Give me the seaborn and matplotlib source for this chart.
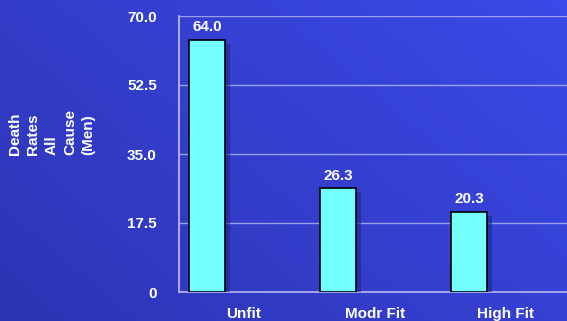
import numpy as np
import pandas as pd
import matplotlib
matplotlib.use("Agg")
import matplotlib.pyplot as plt
import matplotlib.patheffects as pe
import seaborn as sns

# data
groups = ["Unfit", "Modr Fit", "High Fit"]
death_rates = [64.0, 26.3, 20.3]
y_ticks = [0, 17.5, 35.0, 52.5, 70.0]
y_tick_labels = ["0", "17.5", "35.0", "52.5", "70.0"]

df = pd.DataFrame({"group": groups, "rate": death_rates})

sns.set_theme(style="white")
plt.rcParams["font.family"] = ["Liberation Sans", "DejaVu Sans"]
plt.rcParams["font.weight"] = "bold"

fig = plt.figure(figsize=(5.67, 3.21), dpi=100)

# diagonal blue gradient background
bg = fig.add_axes([0, 0, 1, 1], zorder=-10)
xx, yy = np.meshgrid(np.linspace(0, 1, 200), np.linspace(0, 1, 120))
t = (xx * 0.6 + (1 - yy) * 0.4)
c0 = np.array([0x2D, 0x34, 0xB4]) / 255
c1 = np.array([0x3B, 0x4A, 0xE8]) / 255
img = c0[None, None, :] * (1 - t[..., None]) + c1[None, None, :] * t[..., None]
bg.imshow(img, aspect="auto", extent=[0, 1, 0, 1], origin="upper")
bg.axis("off")

W, H = 567, 321
ax = fig.add_axes([179 / W, 1 - 292 / H, (W - 179) / W, (292 - 16) / H])
ax.patch.set_alpha(0)

sns.barplot(data=df, x="group", y="rate", color="#73FEFF", width=0.27,
            edgecolor="black", linewidth=1.2, saturation=1, ax=ax, zorder=3)
for bar in ax.patches:
    bar.set_path_effects([pe.SimplePatchShadow(offset=(4, -3), shadow_rgbFace="#1E2490", alpha=0.6),
                          pe.Normal()])

for i, v in enumerate(death_rates):
    ax.annotate(f"{v:.1f}", (i, v), xytext=(0, 4), textcoords="offset points",
                ha="center", va="bottom", color="white", fontsize=11, fontweight="bold")

ax.set_ylim(0, 70)
ax.set_xlim(-0.214, 2.748)
ax.set_yticks(y_ticks)
ax.set_yticklabels(y_tick_labels)
ax.yaxis.grid(True, color="#B4B8F4", linewidth=1.0, alpha=0.8, zorder=0)
ax.set_axisbelow(True)

# category labels centred in each slot, separator ticks between slots
ax.set_xticks([i + 0.28 for i in range(len(groups))])
ax.set_xticklabels(groups)
ax.set_xticks([0.77, 1.78], minor=True)
ax.tick_params(axis="x", which="major", length=0, pad=11, colors="white", labelsize=11)
ax.tick_params(axis="x", which="minor", length=3, direction="out", color="#B4B8F4", width=1)
ax.tick_params(axis="y", length=3, direction="out", color="#B4B8F4", width=1,
               pad=13, colors="white", labelsize=11)
for lab in ax.get_xticklabels() + ax.get_yticklabels():
    lab.set_fontweight("bold")
    lab.set_color("white")

for s in ["top", "right"]:
    ax.spines[s].set_visible(False)
ax.spines["left"].set_color("#C0C4F6")
ax.spines["bottom"].set_color("#B4B8F4")
ax.spines["left"].set_linewidth(1.2)
ax.spines["bottom"].set_linewidth(1.2)
ax.set_xlabel("")
ax.set_ylabel("")

fig.text(8 / W, 1 - 155 / H, "Death\nRates\nAll\nCause\n(Men)", rotation=90,
         ha="left", va="bottom", multialignment="left", color="white",
         fontsize=11, fontweight="bold", linespacing=1.4)

fig.savefig("out.png", dpi=100)
